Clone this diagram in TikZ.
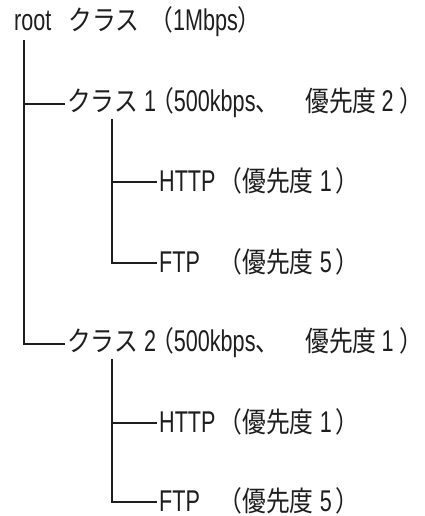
\documentclass[tikz,border=0pt]{standalone}
\usepackage{fontspec}
\usepackage{tikz}
\setmainfont[FakeStretch=0.72]{Liberation Sans}
\newfontfamily\jpfont[FakeStretch=0.85,Scale=0.933]{Noto Sans CJK JP}
\newcommand{\jp}[1]{{\jpfont #1}}
\definecolor{inkBlack}{RGB}{30,30,30}

\begin{document}
\begin{tikzpicture}[
  x=1pt, y=-1pt,
  font=\fontsize{30}{32}\selectfont,
  lbl/.style={anchor=west, inner xsep=2pt, inner ysep=0pt,
              text height=18pt, text depth=0pt, text=inkBlack},
  clslbl/.style={lbl, text height=14pt},
  tree/.style={line width=1.8pt, inkBlack}
]
\useasboundingbox (0,0) rectangle (424,516);

\node[lbl] (root)  at (12,22)  {root\kern17pt\jp{クラス}\kern10pt\jp{（}1Mbps\jp{）}};
\node[clslbl] (cls1) at (65,104) {\jp{クラス}\kern6pt 1\kern-6pt\jp{（}500kbps\jp{、}\kern26pt\jp{優先度}\kern5pt 2\kern6pt\jp{）}};
\node[lbl] (http1) at (157,182) {HTTP\kern3pt\jp{（優先度}\kern6pt 1\kern4pt\jp{）}};
\node[lbl] (ftp1)  at (157,263) {\rlap{FTP}\phantom{HTTP}\kern3pt\jp{（優先度}\kern6pt 5\kern4pt\jp{）}};
\node[clslbl] (cls2) at (65,344) {\jp{クラス}\kern6pt 2\kern-6pt\jp{（}500kbps\jp{、}\kern26pt\jp{優先度}\kern5pt 1\kern6pt\jp{）}};
\node[lbl] (http2) at (157,423) {HTTP\kern3pt\jp{（優先度}\kern6pt 1\kern4pt\jp{）}};
\node[lbl] (ftp2)  at (157,502) {\rlap{FTP}\phantom{HTTP}\kern3pt\jp{（優先度}\kern6pt 5\kern4pt\jp{）}};

\coordinate (rootTop) at (24,40);
\coordinate (cls1Top) at (112,119);
\coordinate (cls2Top) at (112,359);

\draw[tree] (rootTop) |- (cls1.west);
\draw[tree] (rootTop) |- (cls2.west);
\draw[tree] (cls1Top) |- (http1.west);
\draw[tree] (cls1Top) |- (ftp1.west);
\draw[tree] (cls2Top) |- (http2.west);
\draw[tree] (cls2Top) |- (ftp2.west);

\end{tikzpicture}
\end{document}
